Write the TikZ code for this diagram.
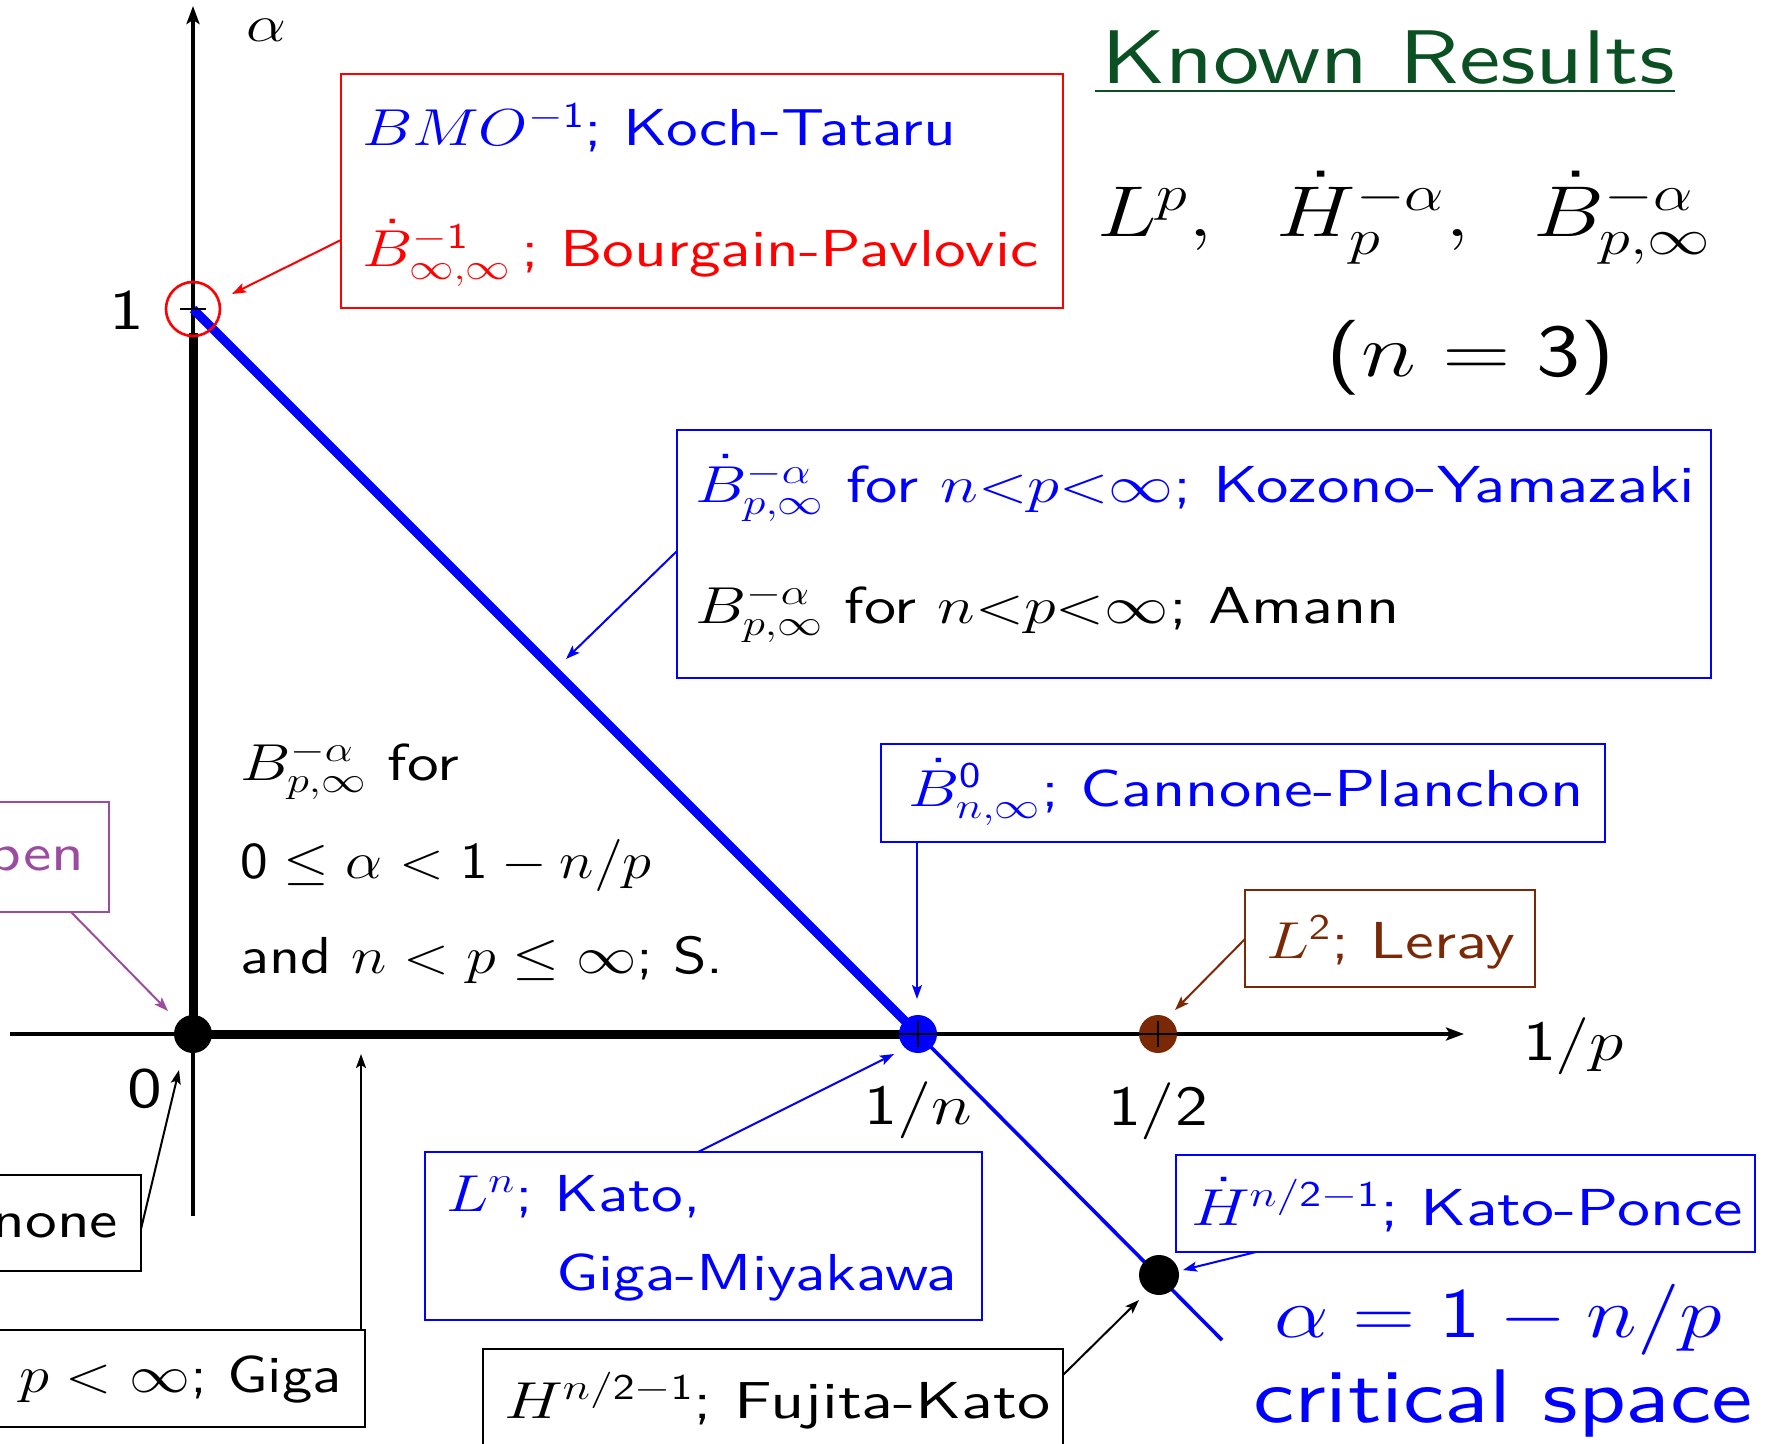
\RequirePackage{fix-cm}
\documentclass[tikz,border=0pt]{standalone}
\usepackage{graphicx}
\usetikzlibrary{arrows.meta,fit}
\DeclareFontFamily{TU}{lmss}{}
\DeclareFontShape{TU}{lmss}{m}{n}{<-> "[lmsans10-regular]:+tlig;"}{}
\DeclareSymbolFont{operators}{OT1}{cmss}{m}{n}
\renewcommand{\familydefault}{\sfdefault}
\definecolor{kgreen}{RGB}{10,80,35}
\definecolor{lbrown}{RGB}{122,40,5}
\definecolor{opurple}{RGB}{155,75,160}
\newcommand{\hstr}[2][1.22]{\scalebox{#1}[1]{#2}}
\newcommand{\fsz}[1]{\fontsize{#1}{#1}\selectfont}
\tikzset{
  txt/.style={inner sep=0pt, outer sep=0pt, font=\fsz{26}},
  lab/.style={inner sep=0pt, outer sep=0pt, font=\fsz{28.5}},
  bigt/.style={inner sep=0pt, outer sep=0pt, font=\fsz{#1}},
  box/.style={draw, line width=1.3pt, inner sep=0pt, outer sep=0pt, rectangle},
  conn/.style={line width=1pt, -{Stealth[length=7pt,width=5pt,inset=1.5pt]}},
  axis/.style={line width=2pt, -{Stealth[length=9pt,width=6.5pt,inset=2pt]}},
  heavy/.style={line width=4.5pt},
  dot/.style={circle, inner sep=0pt, outer sep=0pt, minimum size=19pt},
  tick/.style={line width=1.1pt},
}
\begin{document}
\begin{tikzpicture}[x=0.5pt,y=-0.5pt]
\useasboundingbox (0,0) rectangle (1781,1444);
\clip (0,0) rectangle (1781,1444);
% key points
\coordinate (O) at (193,1034);
\coordinate (A1) at (193,309);
\coordinate (Yb) at (193,1216);
\coordinate (Yt) at (193,6);
\coordinate (Xl) at (10,1034);
\coordinate (Xr) at (1464,1034);
\coordinate (Tk) at (193,333);
\coordinate (Pn) at (918,1034);
\coordinate (Ph) at (1158,1034);
\coordinate (Pk) at (1159,1275);
\coordinate (Le) at (1222,1340);
% axes and lines
\draw[axis] (Yb) -- (Yt);
\draw[axis] (Xl) -- (Xr);
\draw[heavy] (Tk) -- (O) -- (Pn);
\draw[heavy, blue] (A1) -- (Pn);
\draw[blue, line width=1.8pt] (Pn) -- (Le);
\draw[tick] ([xshift=-6.5pt]A1) -- ([xshift=6.5pt]A1);
\node[circle, draw=red, line width=1.3pt, inner sep=0pt, minimum size=27pt] (rc) at (A1) {};
\node[dot, fill=black] (dO) at (O) {};
\node[dot, fill=blue] (dn) at (Pn) {};
\node[dot, fill=lbrown] (dh) at (Ph) {};
\node[dot, fill=black, minimum size=20pt] (dk) at (Pk) {};
\draw[tick] ([yshift=-6.5pt]Pn) -- ([yshift=6.5pt]Pn) (dn.west) -- (dn.east);
\draw[tick] ([yshift=-6.5pt]Ph) -- ([yshift=6.5pt]Ph) (dh.west) -- (dh.east);
% axis labels
\node[bigt=26, anchor=base] (la) at (266,42) {\hstr{$\alpha$}};
\node[lab, anchor=base] (l1) at (127,329) {\hstr{1}};
\node[lab, anchor=base] (l0) at (145,1107) {\hstr{0}};
\node[lab, anchor=base] (lin) at (918,1124) {\hstr{$1/n$}};
\node[lab, anchor=base] (lih) at (1158,1125) {\hstr{$1/2$}};
\node[lab, anchor=base west] (lp) at (1523,1060) {\hstr{$1/p$}};
% title
\node[bigt=38, text=kgreen, anchor=base west] (kr) at (1101,84) {\hstr{Known Results}};
\draw[kgreen, line width=1.2pt] ([yshift=-3.5pt,xshift=-3pt]kr.base west) -- ([yshift=-3.5pt]kr.base east);
\node[bigt=36, anchor=base west] (form) at (1097,237) {\hstr[1.24]{$L^p,\hspace{0.55em}\dot H^{-\alpha}_p,\hspace{0.55em}\dot B^{-\alpha}_{p,\infty}$}};
\node[bigt=37.5, anchor=base] (n3) at (1471,376) {\hstr[1.25]{$(n=3)$}};
% red box
\node[box, draw=red, fit={(341,74) (1063,308)}] (rbox) {};
\node[txt, text=blue, anchor=base west] (rb1) at (362,146) {\hstr{$BMO^{-1}$; Koch-Tataru}};
\node[txt, text=red, anchor=base west] (rb2) at (362,267) {\hstr{$\dot B^{-1}_{\infty,\infty}$\,; Bourgain-Pavlovic}};
\coordinate (ry) at (0,240);
\coordinate (rt) at (232,294);
\draw[conn, red] (rbox.west |- ry) -- (rt);
% Kozono box
\node[box, draw=blue, fit={(677,430) (1711,678)}] (kbox) {};
\node[txt, text=blue, anchor=base west] (k1) at (695,502) {\hstr[1.247]{$\dot B^{-\alpha}_{p,\infty}$ for $n{<}p{<}\infty$; Kozono-Yamazaki}};
\node[txt, anchor=base west] (k2) at (695,623) {\hstr[1.235]{$B^{-\alpha}_{p,\infty}$ for $n{<}p{<}\infty$; Amann}};
\coordinate (ky) at (0,551);
\coordinate (kt) at (566,659);
\draw[conn, blue] (kbox.west |- ky) -- (kt);
% region text
\node[txt, anchor=base west] (r1) at (240,780) {\hstr{$B^{-\alpha}_{p,\infty}$ for}};
\node[txt, anchor=base west] (r2) at (240,878) {\hstr[1.13]{$0\le\alpha<1-n/p$}};
\node[txt, anchor=base west] (r3) at (240,973) {\hstr[1.16]{and $n<p\le\infty$; S.}};
% open box
\node[box, draw=opurple, fit={(-100,802) (109,912)}] (obox) {};
\node[txt, text=opurple, anchor=base east] (ot) at (84,870) {\hstr{open}};
\coordinate (ox) at (71,0);
\coordinate (otp) at (168,1011);
\draw[conn, opurple] (obox.south -| ox) -- (otp);
% none box
\node[box, fit={(-100,1175) (141,1271)}] (nbox) {};
\node[txt, anchor=base east] (nt) at (118,1237) {\hstr{none}};
\coordinate (ny) at (0,1229);
\coordinate (ntp) at (179,1070);
\draw[conn] (nbox.east |- ny) -- (ntp);
% Giga box
\node[box, fit={(-100,1330) (365,1427)}] (gbox) {};
\node[txt, anchor=base east] (gt) at (342,1392) {\hstr[1.17]{$\le p<\infty$; Giga}};
\coordinate (gx) at (361,0);
\coordinate (gtp) at (361,1054);
\draw[conn] (gbox.north -| gx) -- (gtp);
% Cannone box
\node[box, draw=blue, fit={(881,744) (1605,842)}] (cbox) {};
\node[txt, text=blue, anchor=base west] (ct) at (908,806) {\hstr[1.24]{$\dot B^{0}_{n,\infty}$; Cannone-Planchon}};
\coordinate (ctp) at (917,999);
\draw[conn, blue] (cbox.south -| ctp) -- (ctp);
% Leray box
\node[box, draw=lbrown, fit={(1245,890) (1535,987)}] (lbox) {};
\node[txt, text=lbrown, anchor=base west] (lt) at (1266,958) {\hstr[1.24]{$L^2$; Leray}};
\coordinate (lry) at (0,939);
\coordinate (lrt) at (1175,1010);
\draw[conn, lbrown] (lbox.west |- lry) -- (lrt);
% Kato box
\node[box, draw=blue, fit={(425,1152) (982,1320)}] (kabox) {};
\node[txt, text=blue, anchor=base west] (ka1) at (446,1211) {\hstr{$L^n$; Kato,}};
\node[txt, text=blue, anchor=base west] (ka2) at (556,1290) {\hstr{Giga-Miyakawa}};
\coordinate (kax) at (698,0);
\coordinate (kat) at (894,1054);
\draw[conn, blue] (kabox.north -| kax) -- (kat);
% Kato-Ponce box
\node[box, draw=blue, fit={(1176,1155) (1755,1252)}] (kpbox) {};
\node[txt, text=blue, anchor=base west] (kpt1) at (1191,1225) {\hstr[1.27]{$\dot H^{n/2-1}$; Kato-Ponce}};
\coordinate (kpx) at (1256,0);
\coordinate (kpt) at (1183,1270);
\draw[conn, blue] (kpbox.south -| kpx) -- (kpt);
% Fujita box
\node[box, fit={(483,1349) (1063,1500)}] (fbox) {};
\node[txt, anchor=base west] (ft) at (504,1418) {\hstr[1.275]{$H^{n/2-1}$; Fujita-Kato}};
\coordinate (fy) at (0,1375);
\coordinate (ftp) at (1139,1300);
\draw[conn] (fbox.east |- fy) -- (ftp);
% critical line label
\node[bigt=35.5, text=blue, anchor=base west] (eq) at (1274,1337) {\hstr{$\alpha=1-n/p$}};
\node[bigt=38, text=blue, anchor=base west] (cs) at (1253,1422) {\hstr{critical space}};
\end{tikzpicture}
\end{document}
